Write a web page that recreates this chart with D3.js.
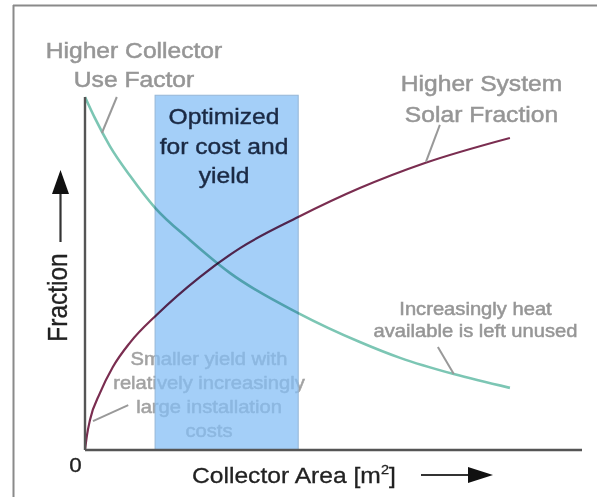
<!DOCTYPE html>
<html><head><meta charset="utf-8">
<script src="https://cdn.jsdelivr.net/npm/d3@7/dist/d3.min.js"></script>
<style>
html,body{margin:0;padding:0;background:#fff;}
svg{display:block;font-family:"Liberation Sans",Arial,sans-serif;}
</style></head>
<body>
<svg id="chart" width="597" height="497"></svg>
<script>
// ---- data (x: collector area in % of shown range, y: fraction 0..1) ----
const useFactorX   = [0, 2.0, 5.0, 9.1, 14.1, 21.1, 29.2, 42.9, 55.3, 63.4, 74.2, 85.5];
const useFactorY   = [1.0, 0.94, 0.861, 0.776, 0.686, 0.595, 0.501, 0.388, 0.306, 0.261, 0.215, 0.176];
const solarFracX   = [0, 0.4, 1.0, 3.0, 5.6, 9.1, 14.5, 23.1, 31.2, 42.9, 55.3, 68.4, 85.5];
const solarFracY   = [0, 0.042, 0.085, 0.161, 0.235, 0.305, 0.384, 0.490, 0.572, 0.660, 0.742, 0.813, 0.884];
const optimizedRange = [14.1, 42.9];
const optimizedTop = 1.005;
const xTickLabels = ["0"];
const optimizedLabel = ["Optimized", "for cost and", "yield"];
const useFactorLabel = ["Higher Collector", "Use Factor"];
const solarLabel = ["Higher System", "Solar Fraction"];
const heatLabel = ["Increasingly heat", "available is left unused"];
const smallLabel = ["Smaller yield with", "relatively increasingly", "large installation", "costs"];
// leader lines [x1,y1,x2,y2] in data units
const leaders = [
  [6.4, 1.0, 3.4, 0.898],
  [71.4, 0.921, 68.6, 0.816],
  [71.0, 0.292, 74.2, 0.215],
  [8.7, 0.127, 1.6, 0.082]
];

const svg = d3.select("#chart");
const x = d3.scaleLinear().domain([0, 100]).range([85, 582]);
const y = d3.scaleLinear().domain([0, 1]).range([450, 97]);
const SX = 1.12; // horizontal text stretch

// frame
svg.append("line").attr("x1", 13).attr("x2", 597).attr("y1", 5.5).attr("y2", 5.5)
  .attr("stroke", "#8a8a8a").attr("stroke-width", 2);
svg.append("line").attr("x1", 13.5).attr("x2", 13.5).attr("y1", 5).attr("y2", 497)
  .attr("stroke", "#8a8a8a").attr("stroke-width", 2);

function textBlock(lines, cx, baselines, size, color, anchor, sw) {
  lines.forEach((t, i) => {
    svg.append("text")
      .attr("transform", `translate(${cx},${baselines[i]}) scale(${SX},1)`)
      .attr("text-anchor", anchor || "middle")
      .attr("font-size", size)
      .attr("fill", color)
      .attr("stroke", color).attr("stroke-width", sw == null ? 0.5 : sw)
      .text(t);
  });
}

// faded text under the box
textBlock(smallLabel, 209, [365, 389, 413, 437], 18, "#a2a2a2");

// optimized box
svg.append("rect")
  .attr("x", x(optimizedRange[0])).attr("y", y(optimizedTop))
  .attr("width", x(optimizedRange[1]) - x(optimizedRange[0]))
  .attr("height", y(0) - y(optimizedTop))
  .attr("fill", "#84bef5").attr("fill-opacity", 0.74)
  .attr("stroke", "#95b6d6").attr("stroke-width", 1);

// curves
const line = d3.line().x(d => x(d[0])).y(d => y(d[1])).curve(d3.curveMonotoneX);
svg.append("path")
  .attr("d", line(useFactorX.map((v, i) => [v, useFactorY[i]])))
  .attr("fill", "none").attr("stroke", "#7cc6b4").attr("stroke-width", 2.6)
  .style("mix-blend-mode", "multiply");
svg.append("path")
  .attr("d", line(solarFracX.map((v, i) => [v, solarFracY[i]])))
  .attr("fill", "none").attr("stroke", "#7a2d50").attr("stroke-width", 2.2)
  .style("mix-blend-mode", "multiply");

// axes
svg.append("line").attr("x1", x(0)).attr("x2", x(0)).attr("y1", y(1)).attr("y2", y(0))
  .attr("stroke", "#555").attr("stroke-width", 2.4);
svg.append("line").attr("x1", x(0)).attr("x2", x(100)).attr("y1", y(0)).attr("y2", y(0))
  .attr("stroke", "#555").attr("stroke-width", 2.4);

// leaders
leaders.forEach(l => {
  svg.append("line").attr("x1", x(l[0])).attr("y1", y(l[1])).attr("x2", x(l[2])).attr("y2", y(l[3]))
    .attr("stroke", "#999").attr("stroke-width", 2);
});

// labels
textBlock(useFactorLabel, 134, [58, 87], 22, "#969696");
textBlock(solarLabel, 481.5, [91, 122], 22, "#969696");
textBlock(heatLabel, 475.5, [315, 337], 18, "#969696");
textBlock(optimizedLabel, 224, [124, 154, 183], 22, "#1b2a44", "middle", 0.4);

// tick label 0
textBlock(xTickLabels, 75.5, [472], 20, "#222", "middle", 0.3);

// x axis title
const xt = svg.append("text")
  .attr("transform", `translate(192,483) scale(${SX},1)`)
  .attr("font-size", 22).attr("fill", "#222").attr("stroke", "#222").attr("stroke-width", 0.3);
xt.append("tspan").text("Collector Area [m");
xt.append("tspan").attr("font-size", 13).attr("dy", -9).text("2");
xt.append("tspan").attr("dy", 9).text("]");

// y axis title
svg.append("text")
  .attr("transform", `translate(67,297.5) scale(${SX},1) rotate(-90)`)
  .attr("text-anchor", "middle").attr("font-size", 24.5).attr("fill", "#222")
  .attr("stroke", "#222").attr("stroke-width", 0.3)
  .text("Fraction");

// arrows
svg.append("line").attr("x1", 60.5).attr("x2", 60.5).attr("y1", 242).attr("y2", 190)
  .attr("stroke", "#333").attr("stroke-width", 2.2);
svg.append("path").attr("d", "M52,194 L69,194 L60.5,170 Z").attr("fill", "#111");
svg.append("line").attr("x1", 421).attr("x2", 472).attr("y1", 475).attr("y2", 475)
  .attr("stroke", "#333").attr("stroke-width", 2.2);
svg.append("path").attr("d", "M468,467 L468,483 L493,475 Z").attr("fill", "#111");
</script>
</body></html>
